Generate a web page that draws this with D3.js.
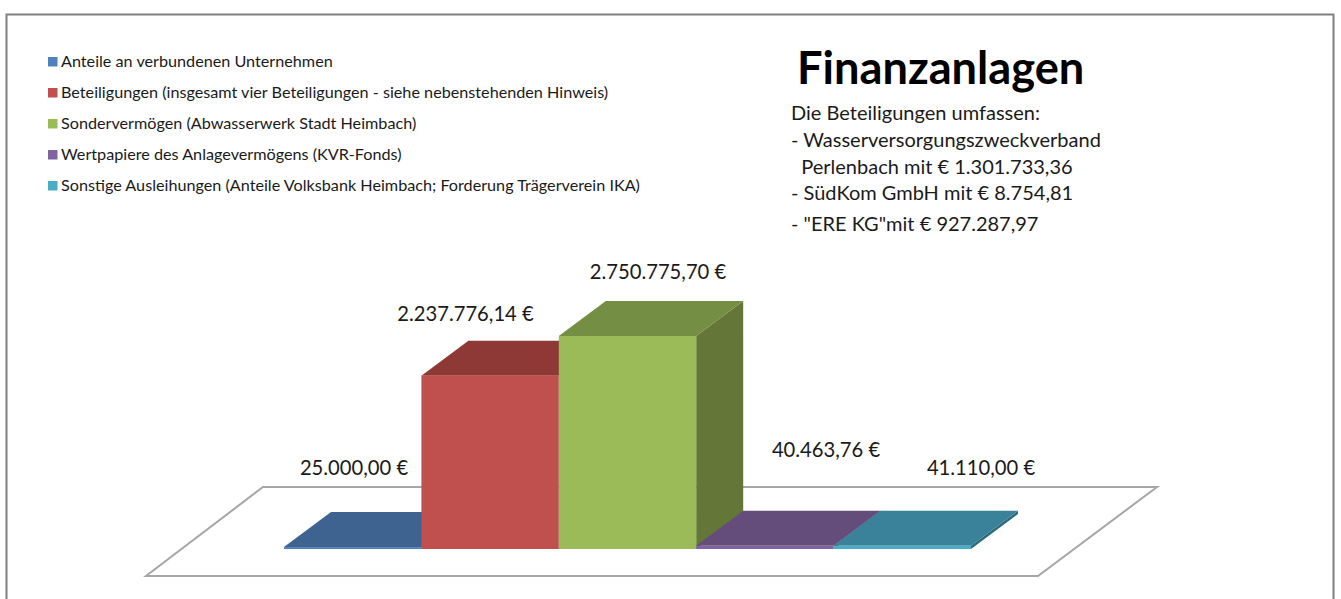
<!DOCTYPE html>
<html><head><meta charset="utf-8">
<style>html,body{margin:0;padding:0;background:#fff;overflow:hidden}svg{display:block}text{font-family:Lato,"Open Sans",sans-serif;fill:#1a1a1a}</style>
<script src="https://cdn.jsdelivr.net/npm/d3@7/dist/d3.min.js"></script>
</head><body><svg id="c" width="1341" height="599"></svg>
<script>
const categories = ["Anteile an verbundenen Unternehmen","Beteiligungen (insgesamt vier Beteiligungen - siehe nebenstehenden Hinweis)","Sondervermögen (Abwasserwerk Stadt Heimbach)","Wertpapiere des Anlagevermögens (KVR-Fonds)","Sonstige Ausleihungen (Anteile Volksbank Heimbach; Forderung Trägerverein IKA)"];
const values = [25000.00, 2237776.14, 2750775.70, 40463.76, 41110.00];
const valueLabels = ["25.000,00 €","2.237.776,14 €","2.750.775,70 €","40.463,76 €","41.110,00 €"];
const frontColors = ["#4f81bd","#c0504d","#9bbb59","#8064a2","#4bacc6"];
const topColors = ["#3e6390","#8f3937","#748e43","#644d7a","#398299"];
const sideColors = ["#2f4a6c","#702c2a","#647739","#4b3a5c","#2d6a7c"];
const titleText = "Finanzanlagen";
const noteLines = ["Die Beteiligungen umfassen:","- Wasserversorgungszweckverband","  Perlenbach mit € 1.301.733,36","- SüdKom GmbH mit € 8.754,81","- \"ERE KG\"mit € 927.287,97"];

const labelAnchors = [[354,475],[465.5,321],[658,279],[826,457],[981,475]];
const noteBaselines = [120,147,174,200,231];
const legendRows = [62,93,124,155,186];
const depth = {x:47, y:35};

const svg = d3.select("#c");
svg.append("path").attr("d","M6.5,599V14.5H1333.5V599").attr("fill","none").attr("stroke","#808080").attr("stroke-width",2);

const x = d3.scaleBand().domain(d3.range(values.length)).range([284,971]).padding(0);
const y = d3.scaleLinear().domain([0,2750775.70]).range([549,336]);

// floor
svg.append("path").attr("d","M146,576H1038L1157,487H263Z").attr("fill","#fff").attr("stroke","#a6a6a6").attr("stroke-width",2);

const line = d3.line();
const bars = svg.append("g").selectAll("g").data(values).join("g");
bars.append("path").attr("fill",(d,i)=>sideColors[i]).attr("d",(d,i)=>{
  const r=x(i)+x.bandwidth();
  return line([[r,y(d)],[r+depth.x,y(d)-depth.y],[r+depth.x,y(0)-depth.y],[r,y(0)]])+"Z";
});
bars.append("path").attr("fill",(d,i)=>topColors[i]).attr("d",(d,i)=>{
  const l=x(i), r=l+x.bandwidth();
  return line([[l,y(d)],[r,y(d)],[r+depth.x,y(d)-depth.y],[l+depth.x,y(d)-depth.y]])+"Z";
});
bars.append("rect").attr("fill",(d,i)=>frontColors[i])
  .attr("x",(d,i)=>x(i)).attr("width",x.bandwidth())
  .attr("y",d=>y(d)).attr("height",d=>y(0)-y(d));

svg.append("g").selectAll("text").data(valueLabels).join("text")
  .attr("x",(d,i)=>labelAnchors[i][0]).attr("y",(d,i)=>labelAnchors[i][1])
  .attr("text-anchor","middle").style("font-size","20.2px").text(d=>d);

const lg = svg.append("g").selectAll("g").data(categories).join("g")
  .attr("transform",(d,i)=>`translate(48,${legendRows[i]})`);
lg.append("rect").attr("y",-5).attr("width",9.5).attr("height",9.5).attr("fill",(d,i)=>frontColors[i]);
lg.append("text").attr("x",13).attr("y",5).style("font-size","16.2px").text(d=>d);

svg.append("text").attr("x",797).attr("y",84).style("font-size","45.2px").style("font-weight","700").style("fill","#000").text(titleText);
svg.append("g").selectAll("text").data(noteLines).join("text")
  .attr("x",791).attr("y",(d,i)=>noteBaselines[i]).attr("xml:space","preserve").style("white-space","pre")
  .style("font-size","20px").text(d=>d);
</script></body></html>
